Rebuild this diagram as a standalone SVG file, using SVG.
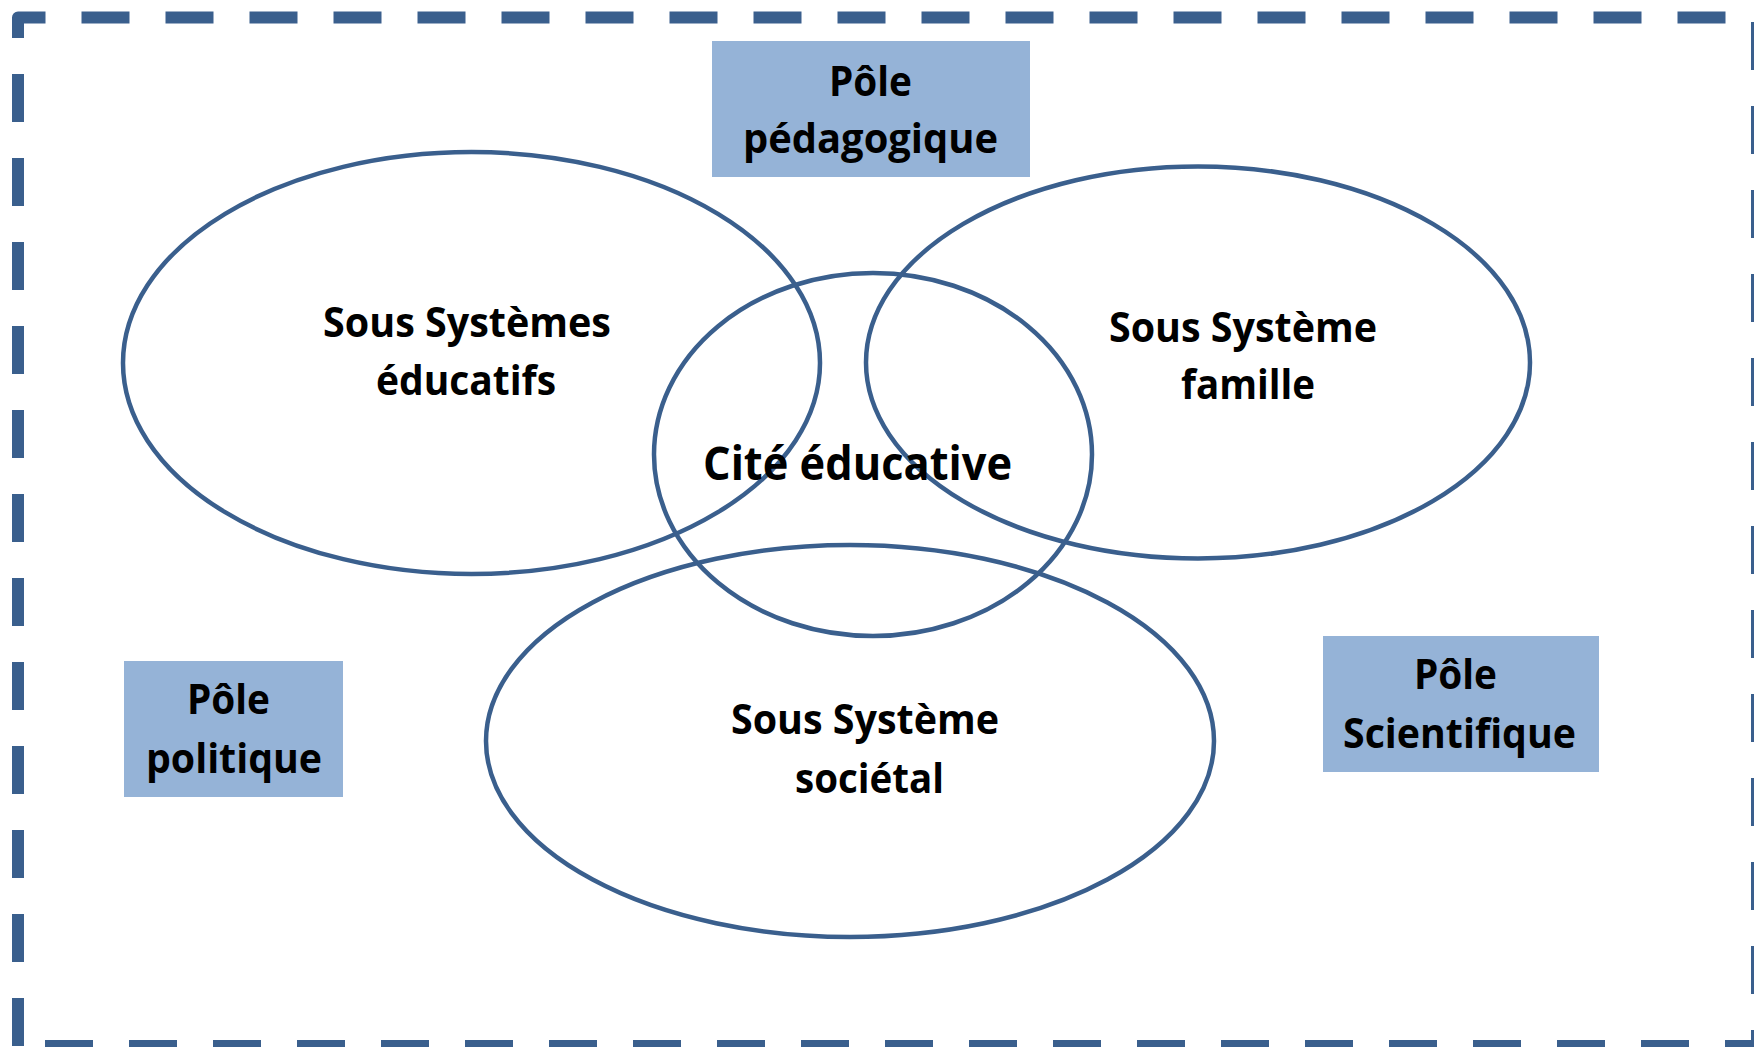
<svg xmlns="http://www.w3.org/2000/svg" width="1754" height="1047" viewBox="0 0 1754 1047">
<style>
.frame{fill:none;stroke:#3A5F8D;stroke-width:12;stroke-dasharray:48 36;stroke-linejoin:round;stroke-linecap:butt}
.ell{fill:none;stroke:#3A5F8D;stroke-width:4.5}
.pole{fill:#95B3D7;stroke:none}
.t{font-family:"Open Sans","Noto Sans","Liberation Sans",sans-serif;font-weight:bold;font-size:41px;fill:#000;text-anchor:middle}
.big{font-size:47px}
</style>
<rect x="0" y="0" width="1754" height="1047" fill="#fff"/>
<g id="frame">
<path class="frame" d="M18,38 V17.5 H1757 V1046 H18"/>
<path class="frame" d="M18,74 V1052"/>
</g>
<g id="connectors"></g>
<g id="sous-systemes-educatifs">
<ellipse class="ell" cx="471.5" cy="363" rx="348.5" ry="211"/>
<text class="t" x="467" y="337" textLength="288" lengthAdjust="spacingAndGlyphs">Sous Systèmes</text>
<text class="t" x="466" y="395" textLength="180" lengthAdjust="spacingAndGlyphs">éducatifs</text>
</g>
<g id="sous-systeme-famille">
<ellipse class="ell" cx="1198" cy="362.5" rx="332" ry="196"/>
<text class="t" x="1243" y="342" textLength="268" lengthAdjust="spacingAndGlyphs">Sous Système</text>
<text class="t" x="1248" y="399" textLength="134" lengthAdjust="spacingAndGlyphs">famille</text>
</g>
<g id="sous-systeme-societal">
<ellipse class="ell" cx="850" cy="741" rx="364" ry="196"/>
<text class="t" x="865" y="734" textLength="268" lengthAdjust="spacingAndGlyphs">Sous Système</text>
<text class="t" x="869.5" y="793" textLength="149" lengthAdjust="spacingAndGlyphs">sociétal</text>
</g>
<g id="cite-educative">
<ellipse class="ell" cx="873" cy="454.5" rx="219" ry="181.5"/>
<text class="t big" x="857.5" y="480" textLength="309" lengthAdjust="spacingAndGlyphs">Cité éducative</text>
</g>
<g id="pole-pedagogique">
<rect class="pole" x="712" y="41" width="318" height="136"/>
<text class="t" x="870.5" y="96" textLength="83" lengthAdjust="spacingAndGlyphs">Pôle</text>
<text class="t" x="870.5" y="153" textLength="255" lengthAdjust="spacingAndGlyphs">pédagogique</text>
</g>
<g id="pole-politique">
<rect class="pole" x="124" y="661" width="219" height="136"/>
<text class="t" x="228.5" y="714" textLength="83" lengthAdjust="spacingAndGlyphs">Pôle</text>
<text class="t" x="234" y="773" textLength="176" lengthAdjust="spacingAndGlyphs">politique</text>
</g>
<g id="pole-scientifique">
<rect class="pole" x="1323" y="636" width="276" height="136"/>
<text class="t" x="1455.5" y="689" textLength="83" lengthAdjust="spacingAndGlyphs">Pôle</text>
<text class="t" x="1459.5" y="748" textLength="233" lengthAdjust="spacingAndGlyphs">Scientifique</text>
</g>
</svg>
